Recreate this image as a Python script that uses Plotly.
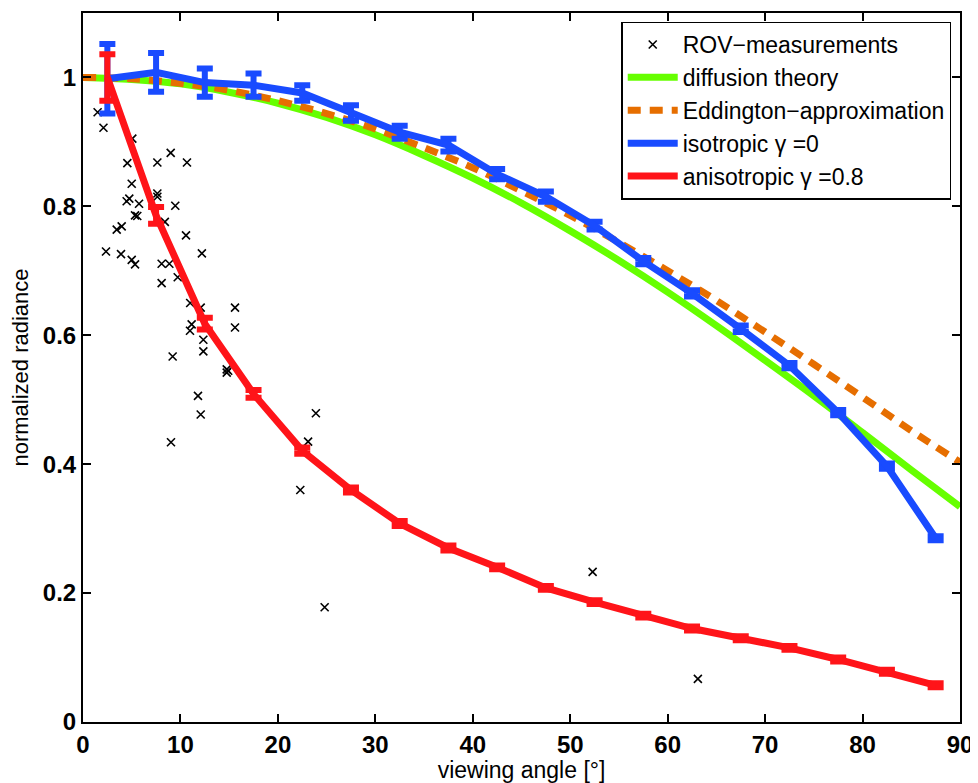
import plotly.graph_objects as go

# ---------------- data ----------------
angles_model = [2.5, 7.5, 12.5, 17.5, 22.5, 27.5, 32.5, 37.5, 42.5, 47.5,
                52.5, 57.5, 62.5, 67.5, 72.5, 77.5, 82.5, 87.5]
iso_vals = [0.998, 1.008, 0.992, 0.988, 0.976, 0.945, 0.915, 0.895, 0.850, 0.815,
            0.770, 0.715, 0.665, 0.610, 0.553, 0.480, 0.397, 0.285]
iso_err = [0.054, 0.030, 0.022, 0.018, 0.012, 0.012, 0.010, 0.010, 0.008, 0.008,
           0.006, 0.005, 0.005, 0.005, 0.004, 0.004, 0.004, 0.003]
aniso_vals = [1.000, 0.786, 0.618, 0.509, 0.421, 0.360, 0.308, 0.270, 0.240, 0.208,
              0.186, 0.165, 0.145, 0.130, 0.115, 0.097, 0.078, 0.057]
aniso_err = [0.036, 0.013, 0.009, 0.006, 0.005, 0.004, 0.004, 0.004, 0.003, 0.003,
             0.003, 0.003, 0.003, 0.003, 0.003, 0.003, 0.003, 0.003]

angles_theory = [0, 5, 10, 15, 20, 25, 30, 35, 40, 45, 50, 55, 60, 65, 70, 75, 80, 85, 90]
diffusion_vals = [1.000, 0.997, 0.990, 0.977, 0.960, 0.938, 0.911, 0.879, 0.844, 0.805,
                  0.762, 0.716, 0.667, 0.615, 0.561, 0.506, 0.449, 0.391, 0.334]
eddington_vals = [1.000, 0.998, 0.991, 0.980, 0.964, 0.944, 0.920, 0.891, 0.860, 0.824,
                  0.786, 0.744, 0.700, 0.654, 0.605, 0.555, 0.504, 0.452, 0.403]

rov_angles = [1.5, 2.1, 5.06, 4.55, 7.63, 9.0, 10.67, 5.0, 7.63, 7.63,
              4.48, 4.75, 5.75, 9.47, 5.34, 5.57, 3.46, 3.97, 8.4, 10.57,
              2.36, 3.9, 12.2, 5.0, 5.34, 8.07, 8.86, 8.07, 9.72, 11.0,
              12.08, 15.6, 11.15, 10.98, 15.6, 12.35, 12.35, 9.2, 14.75, 14.75,
              14.9, 11.8, 12.08, 23.9, 23.1, 9.03, 22.3, 24.8, 52.3, 63.1]
rov_vals = [0.946, 0.922, 0.905, 0.867, 0.868, 0.883, 0.868, 0.835, 0.820, 0.815,
            0.808, 0.812, 0.804, 0.801, 0.786, 0.785, 0.764, 0.769, 0.776, 0.755,
            0.730, 0.726, 0.727, 0.717, 0.710, 0.711, 0.711, 0.681, 0.690, 0.650,
            0.643, 0.643, 0.617, 0.607, 0.612, 0.593, 0.575, 0.567, 0.547, 0.542,
            0.545, 0.506, 0.477, 0.479, 0.435, 0.434, 0.360, 0.178, 0.233, 0.067]

x_ticks = [0, 10, 20, 30, 40, 50, 60, 70, 80, 90]
y_ticks = [0, 0.2, 0.4, 0.6, 0.8, 1.0]
y_tick_labels = ["0", "0.2", "0.4", "0.6", "0.8", "1"]

# ---------------- styles ----------------
BLUE = "rgb(25,75,255)"
RED = "rgb(255,20,25)"
GREEN = "rgb(102,255,0)"
ORANGE = "rgb(230,110,0)"
FONT = "Liberation Sans, Arial, sans-serif"

fig = go.Figure()

fig.add_trace(go.Scatter(
    x=rov_angles, y=rov_vals, mode="markers", name="ROV\u2212measurements",
    marker=dict(symbol="x-thin-open", size=8, color="black",
                line=dict(color="black", width=1.6)),
))
fig.add_trace(go.Scatter(
    x=angles_theory, y=diffusion_vals, mode="lines", name="diffusion theory",
    line=dict(color=GREEN, width=7, shape="spline"),
))
fig.add_trace(go.Scatter(
    x=angles_theory, y=eddington_vals, mode="lines", name="Eddington\u2212approximation",
    line=dict(color=ORANGE, width=7, dash="13px,9px", shape="spline"),
))
fig.add_trace(go.Scatter(
    x=angles_model, y=iso_vals, mode="lines", name="isotropic \u03b3 =0",
    line=dict(color=BLUE, width=7),
    error_y=dict(type="data", array=iso_err, visible=True,
                 color=BLUE, thickness=6, width=8),
))
fig.add_trace(go.Scatter(
    x=angles_model, y=aniso_vals, mode="lines", name="anisotropic \u03b3 =0.8",
    line=dict(color=RED, width=7),
    error_y=dict(type="data", array=aniso_err, visible=True,
                 color=RED, thickness=6, width=8),
))

axis_common = dict(
    showline=True, linecolor="black", linewidth=2, mirror="ticks",
    ticks="inside", ticklen=8, tickwidth=1.5, tickcolor="black",
    showgrid=False, zeroline=False, automargin=False,
    tickfont=dict(family=FONT, size=24, color="black", weight="bold"),
)

fig.update_xaxes(range=[0, 90], tickvals=x_ticks, title_text="viewing angle [\u00b0]",
                 title_standoff=2, title_font=dict(family=FONT, size=23, color="black"),
                 **axis_common)
fig.update_yaxes(range=[0, 1.1], tickvals=y_ticks, ticktext=y_tick_labels,
                 title_text="normalized radiance", title_standoff=11,
                 title_font=dict(family=FONT, size=22, color="black"),
                 **axis_common)

# the page body has an 8px margin, so the figure is sized/offset to place the
# axes at the same pixel positions as the reference
fig.update_layout(
    width=970, height=775,
    margin=dict(l=75, r=18, t=5, b=61),
    paper_bgcolor="white", plot_bgcolor="white",
    font=dict(family=FONT, color="black"),
    legend=dict(
        x=0.99, y=0.988, xanchor="right", yanchor="top",
        bgcolor="white", bordercolor="black", borderwidth=1.5,
        font=dict(family=FONT, size=23, color="black"),
        tracegroupgap=0, itemwidth=50,
    ),
)

fig.write_html("out.html")
